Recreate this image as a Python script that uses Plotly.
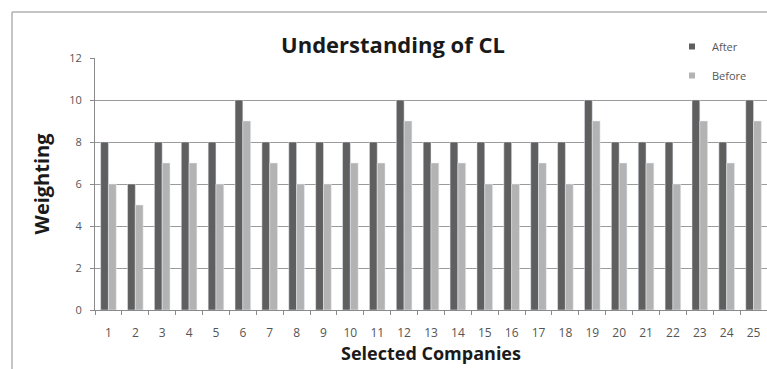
import plotly.graph_objects as go

companies = [str(i) for i in range(1, 26)]
after = [8, 6, 8, 8, 8, 10, 8, 8, 8, 8, 8, 10, 8, 8, 8, 8, 8, 8, 10, 8, 8, 8, 10, 8, 10]
before = [6, 5, 7, 7, 6, 9, 7, 6, 6, 7, 7, 9, 7, 7, 6, 6, 7, 6, 9, 7, 7, 6, 9, 7, 9]
series_names = ["After", "Before"]
series_colors = ["#5f5f5f", "#b3b3b3"]

W, H = 767, 369
L, R, T, B = 95, 0, 58, 59
pw = W - L - R
ph = H - T - B

fig = go.Figure()
for name, vals, col in zip(series_names, [after, before], series_colors):
    fig.add_trace(go.Bar(x=companies, y=vals, name=name, marker_color=col,
                         showlegend=False))
# legend entries with small square keys
for i, (name, col) in enumerate(zip(series_names, series_colors)):
    fig.add_trace(go.Scatter(x=[None], y=[None], mode="markers", name=name,
                             marker=dict(symbol="square", size=6, color=col),
                             legendgroup=f"g{i}", showlegend=True))

def px_x(px):
    return (px - L) / pw

def px_y(py):
    return (H - B - py) / ph

fig.update_layout(
    width=W, height=H,
    margin=dict(l=L, r=R, t=T, b=B),
    paper_bgcolor="white", plot_bgcolor="white",
    barmode="group", bargap=0.42, bargroupgap=0.0,
    font=dict(family="Open Sans, Liberation Sans, sans-serif", color="#555555"),
    title=dict(text="<b>Understanding of CL</b>", x=393 / W, xanchor="center",
               y=1 - 45 / H, yanchor="middle",
               font=dict(size=22, color="#1a1a1a", family="Open Sans, sans-serif")),
    legend=dict(x=px_x(672), y=px_y(32), xanchor="left", yanchor="top",
                bgcolor="rgba(0,0,0,0)", font=dict(size=11, color="#555555"),
                tracegroupgap=10, itemwidth=30),
    showlegend=True,
    xaxis=dict(type="category", showline=True, linecolor="#8a8a8a", linewidth=1,
               ticks="outside", tickson="boundaries", ticklen=4, tickcolor="#8a8a8a",
               tickfont=dict(size=12, color="#555555"), ticklabelstandoff=12,
               title=dict(text="<b>Selected Companies</b>", standoff=5,
                          font=dict(size=18, color="#1a1a1a"))),
    yaxis=dict(range=[0, 12], dtick=2, showgrid=True, gridcolor="#9a9a9a", gridwidth=1,
               showline=True, linecolor="#8a8a8a", linewidth=1,
               ticks="outside", ticklen=4, tickcolor="#8a8a8a",
               tickfont=dict(size=11, color="#555555"), zeroline=False,
               ticklabelstandoff=6,
               title=dict(text="<b>Weighting</b>", standoff=14,
                          font=dict(size=20, color="#1a1a1a"))),
    shapes=[
        dict(type="line", xref="paper", yref="paper", x0=px_x(12), x1=px_x(767),
             y0=px_y(12), y1=px_y(12), line=dict(color="#b0b0b0", width=1.5)),
        dict(type="line", xref="paper", yref="paper", x0=px_x(12), x1=px_x(12),
             y0=px_y(12), y1=px_y(369), line=dict(color="#b0b0b0", width=1.5)),
    ],
)

fig.write_html("out.html")
